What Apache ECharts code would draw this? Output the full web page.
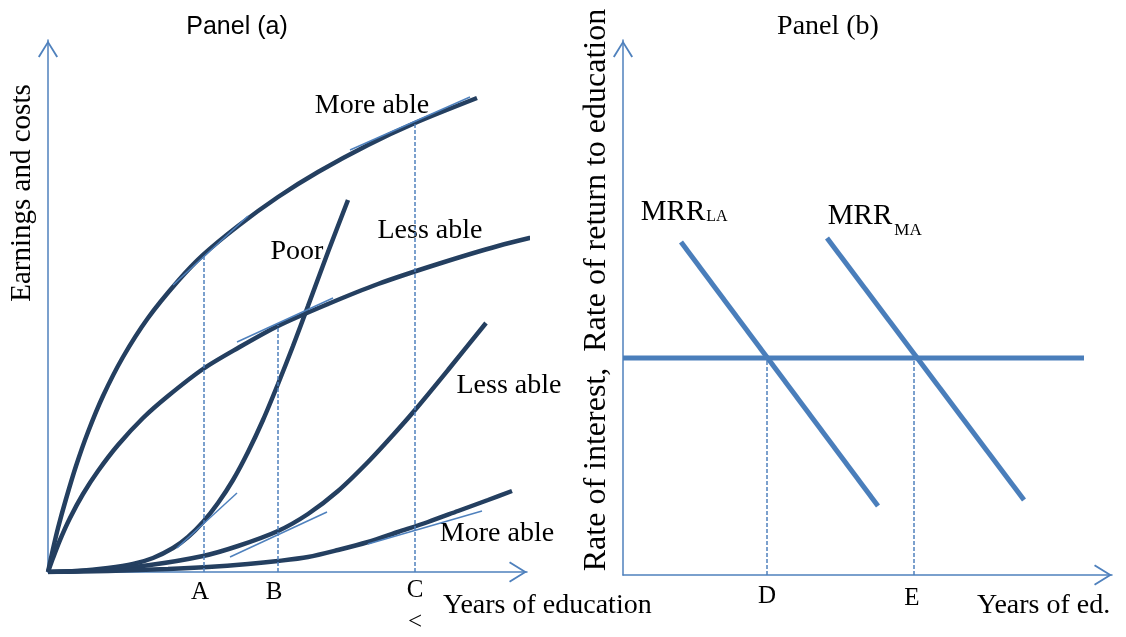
<!DOCTYPE html>
<html>
<head>
<meta charset="UTF-8">
<title>Panel (a) / Panel (b)</title>
<style type="text/css">
    html,body{margin:0;padding:0;background:#fff;}
    #main{width:1126px;height:637px;}
</style>
<script type="text/javascript" src="https://cdn.jsdelivr.net/npm/echarts@6/dist/echarts.min.js"></script>
</head>
<body>
<div id="main"></div>
<script type="text/javascript">
// panel (a) -- x: years of education, y: earnings and costs (arbitrary units)
var moreAbleEarn = [[0,0],[5,23],[10,44],[18,73],[28,106],[40,140],[55,176],[75,215],[100,254],[130,291],[155,317],[190,346],[230,375],[270,400],[320,427],[367,449],[429,474]];
var lessAbleEarn = [[0,0],[5,14],[12,32],[22,54],[35,78],[50,101],[70,127],[95,154],[120,176],[155,203],[190,224],[230,246],[280,268],[330,288],[390,308],[450,326],[507,340]];
var poorCost     = [[0,0],[30,1],[60,4],[85,8],[105,14],[125,24],[140,35],[155,50],[170,69],[185,92],[200,120],[215,152],[230,188],[245,226],[260,266],[280,320],[300,372]];
var lessAbleCost = [[0,0],[50,2],[102,7],[155,16],[190,26],[230,41],[260,58],[290,81],[320,110],[345,137],[367,162],[400,202],[438,249]];
var moreAbleCost = [[0,0],[60,1],[120,3],[160,5],[200,8],[230,11],[260,15],[290,22],[320,30],[350,40],[380,50],[410,61],[440,72],[464,81]];

// tangents and guide lines
var tangentsA = [
    [[125,287],[200,356]],
    [[302,422],[422,475]],
    [[189,230],[285,274]],
    [[129,24],[189,79]],
    [[182,15],[279,60]],
    [[320,28],[434,61]]
];
var guidesA = [
    [[156,0],[156,318]],
    [[230,0],[230,247]],
    [[367,0],[367,449]]
];
var curveLabelsA = [
    {name:'More able', value:[324,466]},
    {name:'Poor', value:[249,320]},
    {name:'Less able', value:[382,341]},
    {name:'Less able', value:[461,186]},
    {name:'More able', value:[449,38]}
];
var pointLabelsA = [
    {name:'A', value:[152,-20]},
    {name:'B', value:[226,-20]},
    {name:'C', value:[367,-18]},
    {name:'<', value:[367,-50]}
];

// panel (b) -- x: years of ed., y: rate of interest / rate of return
var rateLine = [[0,217],[461,217]];
var mrrLA = [[58,333],[255,69]];
var mrrMA = [[204,337],[401,75]];
var guidesB = [
    [[144,0],[144,217]],
    [[291,0],[291,217]]
];
var pointLabelsB = [
    {name:'D', value:[144,-21]},
    {name:'E', value:[289,-23]}
];
var mrrLabels = [
    {name:'MRR', value:[50,363], size:29},
    {name:'LA', value:[94,358], size:16},
    {name:'MRR', value:[237,359], size:29},
    {name:'MA', value:[285,344], size:17}
];

var AXIS = '#4F81BD', CURVE = '#243F60', LINEB = '#4A7EBB';
var SERIF = '"Liberation Serif", "Times New Roman", serif';
var chevron = 'path://M0,0 L10,16 L8.4,17 L0,3.2 L-8.4,17 L-10,16 Z';

function axisLine(size) {
    return { show: true, onZero: false, symbol: ['none', chevron], symbolSize: size, symbolOffset: [0, -size[1] / 2],
             lineStyle: { color: AXIS, width: 1.5 } };
}
function valAxis(idx, max, size) {
    return { type: 'value', gridIndex: idx, min: 0, max: max, axisLine: axisLine(size),
             axisTick: { show: false }, axisLabel: { show: false }, splitLine: { show: false } };
}
function line(data, gi, color, width, type) {
    return { type: 'line', xAxisIndex: gi, yAxisIndex: gi, data: data, showSymbol: false, silent: true,
             lineStyle: { color: color, width: width, type: type || 'solid', cap: 'butt' } };
}
function curve(data) {
    var s = line(data, 0, CURVE, 4.5);
    s.smooth = 0.3;
    return s;
}
function labels(data, gi, size) {
    return { type: 'scatter', xAxisIndex: gi, yAxisIndex: gi, data: data, symbolSize: 0, clip: false, silent: true,
             itemStyle: { opacity: 1 },
             label: { show: true, position: 'inside', formatter: '{b}', color: '#000',
                      fontFamily: SERIF, fontSize: size } };
}

var series = [
    curve(moreAbleEarn), curve(lessAbleEarn), curve(poorCost), curve(lessAbleCost), curve(moreAbleCost)
];
tangentsA.forEach(function (t) { series.push(line(t, 0, AXIS, 1.5)); });
guidesA.forEach(function (g) { series.push(line(g, 0, AXIS, 1.5, [4, 2])); });
series.push(labels(curveLabelsA, 0, 28));
series.push(labels(pointLabelsA, 0, 25));

series.push(line(rateLine, 1, LINEB, 5));
series.push(line(mrrLA, 1, LINEB, 5));
series.push(line(mrrMA, 1, LINEB, 5));
guidesB.forEach(function (g) { series.push(line(g, 1, AXIS, 1.5, [4, 2])); });
series.push(labels(pointLabelsB, 1, 25));
var mrr = labels(mrrLabels.map(function (d) {
    return { name: d.name, value: d.value, label: { fontSize: d.size } };
}), 1, 29);
series.push(mrr);

var chart = echarts.init(document.getElementById('main'));
chart.setOption({
    animation: false,
    grid: [
        { left: 48, top: 40, width: 479, height: 532 },
        { left: 623, top: 40, width: 489, height: 535 }
    ],
    xAxis: [valAxis(0, 479, [22, 18]), valAxis(1, 489, [22, 18])],
    yAxis: [valAxis(0, 532, [20, 18]), valAxis(1, 535, [20, 18])],
    graphic: [
        { type: 'text', x: 237, y: 27, style: { text: 'Panel (a)', font: '25px "Liberation Sans", Arial, sans-serif', fill: '#000', align: 'center', verticalAlign: 'middle' } },
        { type: 'text', x: 828, y: 27, style: { text: 'Panel (b)', font: '28px ' + SERIF, fill: '#000', align: 'center', verticalAlign: 'middle' } },
        { type: 'text', x: 22, y: 193, rotation: Math.PI / 2, style: { text: 'Earnings and costs', font: '29px ' + SERIF, fill: '#000', align: 'center', verticalAlign: 'middle' } },
        { type: 'text', x: 597, y: 290, rotation: Math.PI / 2, style: { text: 'Rate of interest,  Rate of return to education', font: '32px ' + SERIF, fill: '#000', align: 'center', verticalAlign: 'middle' } },
        { type: 'text', x: 443, y: 606, style: { text: 'Years of education', font: '28px ' + SERIF, fill: '#000', align: 'left', verticalAlign: 'middle' } },
        { type: 'text', x: 977, y: 606, style: { text: 'Years of ed.', font: '28px ' + SERIF, fill: '#000', align: 'left', verticalAlign: 'middle' } }
    ],
    series: series
});
</script>
</body>
</html>
